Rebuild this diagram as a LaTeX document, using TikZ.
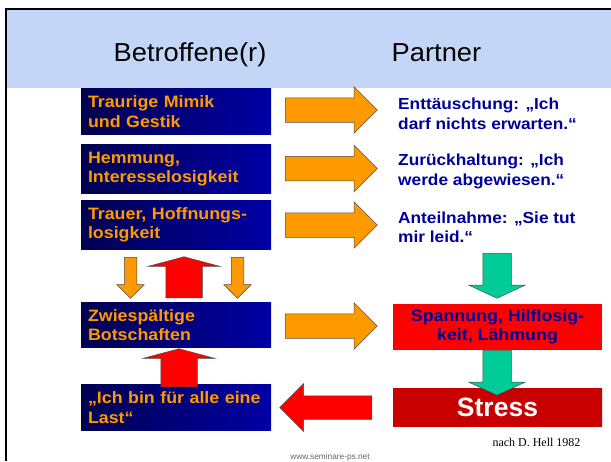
\documentclass[tikz,border=0pt]{standalone}
\usepackage{fontspec}
\setmainfont{Liberation Sans}
\newfontfamily\boxfont[FakeStretch=1.08]{Liberation Sans}
\newfontfamily\headfont[FakeStretch=1.05]{Liberation Sans}
\newfontfamily\srcfont{Liberation Serif}
\usetikzlibrary{positioning,shapes.arrows}

\definecolor{headblue}{RGB}{196,214,248}
\definecolor{boxdark}{RGB}{0,0,80}
\definecolor{boxblue}{RGB}{0,0,165}
\definecolor{arrorange}{RGB}{255,153,0}
\definecolor{arrred}{RGB}{255,0,0}
\definecolor{arrgreen}{RGB}{0,204,153}
\definecolor{txtblue}{RGB}{0,0,153}
\definecolor{stressdark}{RGB}{200,0,0}
\definecolor{stressmid}{RGB}{235,0,0}

\begin{document}
\begin{tikzpicture}[x=1pt,y=-1pt,node distance=57.5pt,on grid,
    sym/.style={minimum width=190pt,minimum height=44pt,inner sep=7pt,text width=176pt,align=left,
      left color=boxdark,right color=boxblue,text=arrorange,font=\boxfont\bfseries\fontsize{16.5}{19.5}\selectfont},
    reac/.style={anchor=west,inner sep=0pt,align=left,text=txtblue,font=\boxfont\bfseries\fontsize{16}{19.5}\selectfont},
    blk/.style={single arrow,draw=black!70,line width=.5pt,inner xsep=0pt,single arrow head indent=0pt,anchor=tail},
    wide/.style={blk,fill=arrorange,minimum height=92pt,inner ysep=12pt,single arrow head extend=11pt}]
    \useasboundingbox (0,0) rectangle (611,461);
    % frame and title band
    \fill[headblue] (6,9) rectangle (611,88);
    \draw[line width=2.5pt] (6,461) -- (6,9) -- (611,9);
    \node[anchor=base,font=\headfont\fontsize{26}{30}\selectfont] (h_b) at (190,61) {Betroffene(r)};
    \node[anchor=base,font=\headfont\fontsize{26}{30}\selectfont] (h_p) at (436.5,61) {Partner};
    % Betroffene(r)
    \node[sym] (b_1) at (176,111.5) {Traurige Mimik\\und Gestik};
    \node[sym] (b_2) [below=of b_1] {Hemmung,\\Interesselosigkeit};
    \node[sym] (b_3) [below=56pt of b_2] {Trauer, Hoffnungs-\\losigkeit};
    \node[sym] (b_4) [below=100pt of b_3] {Zwiesp\"altige\\Botschaften};
    \node[sym] (b_5) [below=82.5pt of b_4] {„Ich bin f\"ur alle eine\\Last“};
    % Partner
    \node[reac] (p_1) at (398,114) {Entt\"auschung: „Ich\\darf nichts erwarten.“};
    \node[reac] (p_2) at (398,171.5) {Zur\"uckhaltung: „Ich\\werde abgewiesen.“};
    \node[reac] (p_3) at (398,227.5) {Anteilnahme: „Sie tut\\mir leid.“};
    \node[minimum width=209pt,minimum height=46pt,inner sep=2pt,fill=arrred,text=txtblue,align=center,
      font=\boxfont\bfseries\fontsize{16.5}{19}\selectfont] (s_1) at (497.5,327) {Spannung, Hilflosig-\\keit, L\"ahmung};
    \node[minimum width=209pt,minimum height=38pt,left color=stressdark,middle color=stressmid,right color=stressdark,
      text=white,font=\bfseries\fontsize{26.5}{30}\selectfont] (s_2) at (497.5,407) {Stress};
    % block arrows (placed by their tails)
    \node[wide] (a_1) at (285,110) {};
    \node[wide] (a_2) at (285,168.5) {};
    \node[wide] (a_3) at (285,225) {};
    \node[wide] (a_4) at (285,326) {};
    \node[blk,fill=arrred,minimum height=92pt,inner ysep=11.5pt,single arrow head extend=12pt,shape border rotate=180] (a_5) at (372,407.5) {};
    \node[blk,fill=arrorange,minimum height=41pt,inner ysep=6pt,single arrow head extend=7.5pt,rotate=-90] (d_1) at (130.5,257) {};
    \node[blk,fill=arrorange,minimum height=41pt,inner ysep=6pt,single arrow head extend=7.5pt,rotate=-90] (d_2) at (237.5,257) {};
    \node[blk,fill=arrred,minimum height=41pt,inner ysep=18pt,single arrow head extend=18pt,single arrow tip angle=150,rotate=90] (u_1) at (184,298) {};
    \node[blk,fill=arrred,minimum height=38pt,inner ysep=18pt,single arrow head extend=18pt,single arrow tip angle=150,rotate=90] (u_2) at (179,387) {};
    \node[blk,fill=arrgreen,minimum height=45pt,inner ysep=14pt,single arrow head extend=14pt,single arrow tip angle=130,rotate=-90] (g_1) at (497,253) {};
    \node[blk,fill=arrgreen,minimum height=45pt,inner ysep=14pt,single arrow head extend=14pt,single arrow tip angle=130,rotate=-90] (g_2) at (497,350) {};
    % source
    \node[font=\srcfont\fontsize{12}{14}\selectfont] (src) at (536.5,442) {nach D. Hell 1982};
    \node[font=\fontsize{8.3}{10}\selectfont,text=black!60] (web) at (330,457) {www.seminare-ps.net};
\end{tikzpicture}
\end{document}
